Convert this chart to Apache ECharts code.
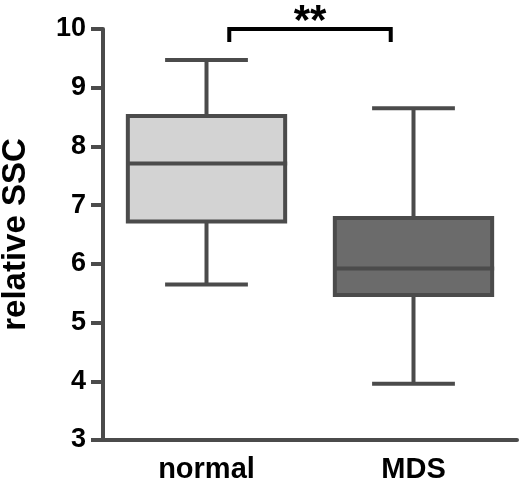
<!DOCTYPE html>
<html>
<head>
<meta charset="utf-8">
<script src="https://cdn.jsdelivr.net/npm/echarts@6/dist/echarts.min.js"></script>
<style>
  html, body { margin: 0; padding: 0; background: #fff; }
  #main { width: 520px; height: 482px; }
</style>
</head>
<body>
<div id="main"></div>
<script>
var categories = ['normal', 'MDS'];
var lowWhisker = [5.65, 3.96];
var q1 = [6.72, 5.47];
var median = [7.71, 5.92];
var q3 = [8.52, 6.78];
var highWhisker = [9.47, 8.65];
var yTicks = [3, 4, 5, 6, 7, 8, 9, 10];
// significance bracket: between group 0 and 1, drawn at y = 10
var sigPair = [0, 1];
var sigLevel = 10;
var sigText = '**';

var boxFills = ['#d3d3d3', '#6b6b6b'];
var edge = '#4b4b4b';
var font = '"Liberation Sans", Arial, sans-serif';

var boxData = categories.map(function (c, i) {
    return [i, lowWhisker[i], q1[i], median[i], q3[i], highWhisker[i]];
});

var chart = echarts.init(document.getElementById('main'));

chart.setOption({
    animation: false,
    grid: { left: 103, right: 3, top: 29, bottom: 42, containLabel: false, outerBoundsMode: 'none' },
    xAxis: {
        type: 'category',
        data: categories,
        boundaryGap: true,
        axisLine: { lineStyle: { color: edge, width: 4 } },
        axisTick: { alignWithLabel: true, length: 12, lineStyle: { color: edge, width: 4 } },
        axisLabel: { color: '#000', fontWeight: 'bold', fontSize: 29, fontFamily: font, margin: 15 },
        splitLine: { show: false }
    },
    yAxis: {
        type: 'value',
        min: yTicks[0],
        max: yTicks[yTicks.length - 1],
        interval: 1,
        name: 'relative SSC',
        nameLocation: 'middle',
        nameGap: 71,
        nameTextStyle: { color: '#000', fontWeight: 'bold', fontSize: 33, fontFamily: font },
        axisLine: { show: true, lineStyle: { color: edge, width: 4 } },
        axisTick: { show: true, length: 12, lineStyle: { color: edge, width: 4 } },
        axisLabel: { color: '#000', fontWeight: 'bold', fontSize: 27, fontFamily: font, margin: 17 },
        splitLine: { show: false }
    },
    series: [{
        type: 'custom',
        data: boxData,
        renderItem: function (params, api) {
            var i = api.value(0);
            var band = api.size([1, 0])[0];
            var cx = api.coord([i, 0])[0];
            var half = band * 0.38;
            var cap = band * 0.2;
            var yMin = api.coord([i, api.value(1)])[1];
            var yQ1 = api.coord([i, api.value(2)])[1];
            var yMed = api.coord([i, api.value(3)])[1];
            var yQ3 = api.coord([i, api.value(4)])[1];
            var yMax = api.coord([i, api.value(5)])[1];
            var ln = { stroke: edge, lineWidth: 4 };
            return {
                type: 'group',
                children: [
                    { type: 'line', shape: { x1: cx, y1: yMax, x2: cx, y2: yQ3 }, style: ln },
                    { type: 'line', shape: { x1: cx, y1: yQ1, x2: cx, y2: yMin }, style: ln },
                    { type: 'line', shape: { x1: cx - cap, y1: yMax, x2: cx + cap, y2: yMax }, style: ln },
                    { type: 'line', shape: { x1: cx - cap, y1: yMin, x2: cx + cap, y2: yMin }, style: ln },
                    { type: 'rect', shape: { x: cx - half, y: yQ3, width: half * 2, height: yQ1 - yQ3 },
                      style: { fill: boxFills[i], stroke: edge, lineWidth: 4 } },
                    { type: 'line', shape: { x1: cx - half, y1: yMed, x2: cx + half + 2, y2: yMed }, style: ln }
                ]
            };
        }
    }, {
        type: 'custom',
        data: [[sigPair[0], sigPair[1], sigLevel]],
        clip: false,
        renderItem: function (params, api) {
            var band = api.size([1, 0])[0];
            var x1 = api.coord([api.value(0), 0])[0] + band * 0.11;
            var x2 = api.coord([api.value(1), 0])[0] - band * 0.11;
            var y = api.coord([0, api.value(2)])[1];
            var drop = api.size([0, 0.22])[1];
            return {
                type: 'group',
                children: [
                    { type: 'polyline',
                      shape: { points: [[x1, y + drop], [x1, y], [x2, y], [x2, y + drop]] },
                      style: { stroke: '#000', lineWidth: 4, fill: null } },
                    { type: 'text',
                      style: { text: sigText, x: (x1 + x2) / 2, y: y + 14, align: 'center', verticalAlign: 'bottom',
                               fill: '#000', fontSize: 42, fontWeight: 'bold', fontFamily: font } }
                ]
            };
        }
    }]
});
</script>
</body>
</html>
